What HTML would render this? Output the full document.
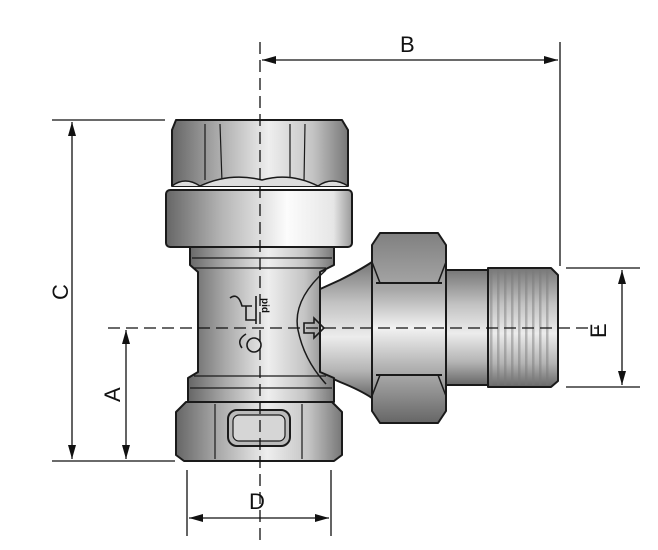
<!DOCTYPE html>
<html><head><meta charset="utf-8"><style>
html,body{margin:0;padding:0;background:#fff;}
svg{display:block;}
text{font-family:"Liberation Sans",sans-serif;font-size:22px;fill:#111;}
</style></head><body>
<svg width="658" height="550" viewBox="0 0 658 550" xmlns="http://www.w3.org/2000/svg">
<defs>
<linearGradient id="gH" x1="0" x2="1" y1="0" y2="0">
<stop offset="0" stop-color="#666"/><stop offset="0.25" stop-color="#a8a8a8"/><stop offset="0.55" stop-color="#eeeeee"/><stop offset="0.8" stop-color="#c4c4c4"/><stop offset="1" stop-color="#777"/>
</linearGradient>
<linearGradient id="gBand" x1="0" x2="1" y1="0" y2="0">
<stop offset="0" stop-color="#666"/><stop offset="0.3" stop-color="#b5b5b5"/><stop offset="0.65" stop-color="#fcfcfc"/><stop offset="0.9" stop-color="#e6e6e6"/><stop offset="1" stop-color="#999"/>
</linearGradient>
<linearGradient id="gV" x1="0" x2="0" y1="0" y2="1">
<stop offset="0" stop-color="#777"/><stop offset="0.3" stop-color="#c2c2c2"/><stop offset="0.55" stop-color="#ececec"/><stop offset="0.8" stop-color="#b4b4b4"/><stop offset="1" stop-color="#666"/>
</linearGradient>
<linearGradient id="gHex" x1="0" x2="0" y1="0" y2="1">
<stop offset="0" stop-color="#808080"/><stop offset="0.3" stop-color="#a8a8a8"/><stop offset="0.5" stop-color="#f2f2f2"/><stop offset="0.7" stop-color="#b4b4b4"/><stop offset="1" stop-color="#666"/>
</linearGradient>
<pattern id="thr" width="7" height="10" patternUnits="userSpaceOnUse">
<rect x="0" width="2.5" height="10" fill="#777" opacity="0.45"/>
</pattern>
</defs>

<g stroke="#1a1a1a" stroke-width="2" stroke-linejoin="round">
<path d="M318,290 L340,280 Q360,270 372,262 L372,398 Q360,390 340,382 L318,372 Z" fill="url(#gV)"/>
<rect x="446" y="270" width="42" height="115" fill="url(#gV)"/>
<path d="M488,268 L551,268 L558,275 L558,381 L551,387 L488,387 Z" fill="url(#gV)"/>
<rect x="490" y="270" width="60" height="115" fill="url(#thr)" stroke="none"/>
<path d="M380,233 L438,233 L446,245 L446,411 L438,423 L380,423 L372,411 L372,245 Z" fill="url(#gHex)"/>
<path d="M376,283 L442,283 M376,375 L442,375" fill="none"/>
<path d="M372,262 L380,283 M446,262 L438,283 M372,396 L380,375 M446,396 L438,375" fill="none" stroke-width="1.5"/>

<path d="M190,247 L334,247 L334,265 L320,272 L320,372 L334,378 L334,402 L188,402 L188,378 L198,372 L198,272 L190,265 Z" fill="url(#gH)"/>
<path d="M192,258 L332,258 M194,268 L326,268 M194,376 L326,376 M190,388 L332,388" fill="none" stroke-width="1.2"/>
<path d="M326,270 Q292,300 298,330 Q304,360 326,384" fill="none" stroke-width="1.5"/>
<path d="M186,402 L332,402 L342,412 L342,455 L334,461 L184,461 L176,455 L176,412 Z" fill="url(#gH)"/>
<path d="M215,404 L215,459 M302,404 L302,459" fill="none" stroke-width="1.2"/>
<rect x="228" y="410" width="62" height="36" rx="9" fill="#bbb"/>
<rect x="233" y="415" width="52" height="26" rx="6" fill="#d6d6d6" stroke-width="1.2"/>
<rect x="166" y="190" width="186" height="57" rx="4" fill="url(#gBand)"/>
<path d="M176,120 L342,120 L348,130 L348,186 L172,186 L172,130 Z" fill="url(#gH)"/>
<path d="M205,124 L205,180 M220,124 L222,182 M290,124 L290,182 M305,124 L304,182" fill="none" stroke-width="1.2"/>
<path d="M172,186 Q185,176 200,186 Q230,172 262,180 Q290,172 318,186 Q332,176 348,186" fill="#ddd" stroke-width="1.5"/>
</g>

<g stroke="#1a1a1a" stroke-width="1.6" fill="none">
<path d="M304,323 L314,323 L314,318 L324,328 L314,338 L314,333 L304,333 Z"/>
<circle cx="254" cy="345" r="7"/>
<path d="M242,348 Q236,340 246,334"/>
<path d="M230,298 Q238,292 242,306 L252,306 M246,306 L246,320 L256,320 M256,296 L256,324"/>
<text x="262" y="298" stroke="none" transform="rotate(90 262 298)" style="font-size:10px;font-weight:bold">pid</text>
</g>

<g stroke="#111" stroke-width="1.3" fill="none">
<path d="M260,42 L260,544" stroke-dasharray="12,6"/>
<path d="M108,328 L598,328" stroke-dasharray="12,6"/>
<path d="M560,42 L560,266"/>
<path d="M262,60 L558,60"/>
<path d="M52,120 L165,120 M52,461 L175,461"/>
<path d="M72,122 L72,459"/>
<path d="M126,330 L126,459"/>
<path d="M566,268 L640,268 M566,387 L640,387"/>
<path d="M622,270 L622,385"/>
<path d="M187,470 L187,536 M331,470 L331,536"/>
<path d="M189,518 L329,518"/>
</g>
<g fill="#111">
<path d="M262,60 L276,56 L276,64 Z"/><path d="M558,60 L544,56 L544,64 Z"/>
<path d="M72,122 L68,136 L76,136 Z"/><path d="M72,459 L68,445 L76,445 Z"/>
<path d="M126,330 L122,344 L130,344 Z"/><path d="M126,459 L122,445 L130,445 Z"/>
<path d="M622,270 L618,284 L626,284 Z"/><path d="M622,385 L618,371 L626,371 Z"/>
<path d="M189,518 L203,514 L203,522 Z"/><path d="M329,518 L315,514 L315,522 Z"/>
</g>
<text x="400" y="52">B</text>
<text x="249" y="509">D</text>
<text x="0" y="0" transform="translate(68,300) rotate(-90)">C</text>
<text x="0" y="0" transform="translate(120,402) rotate(-90)">A</text>
<text x="0" y="0" transform="translate(606,338) rotate(-90)">E</text>
</svg>
</body></html>
